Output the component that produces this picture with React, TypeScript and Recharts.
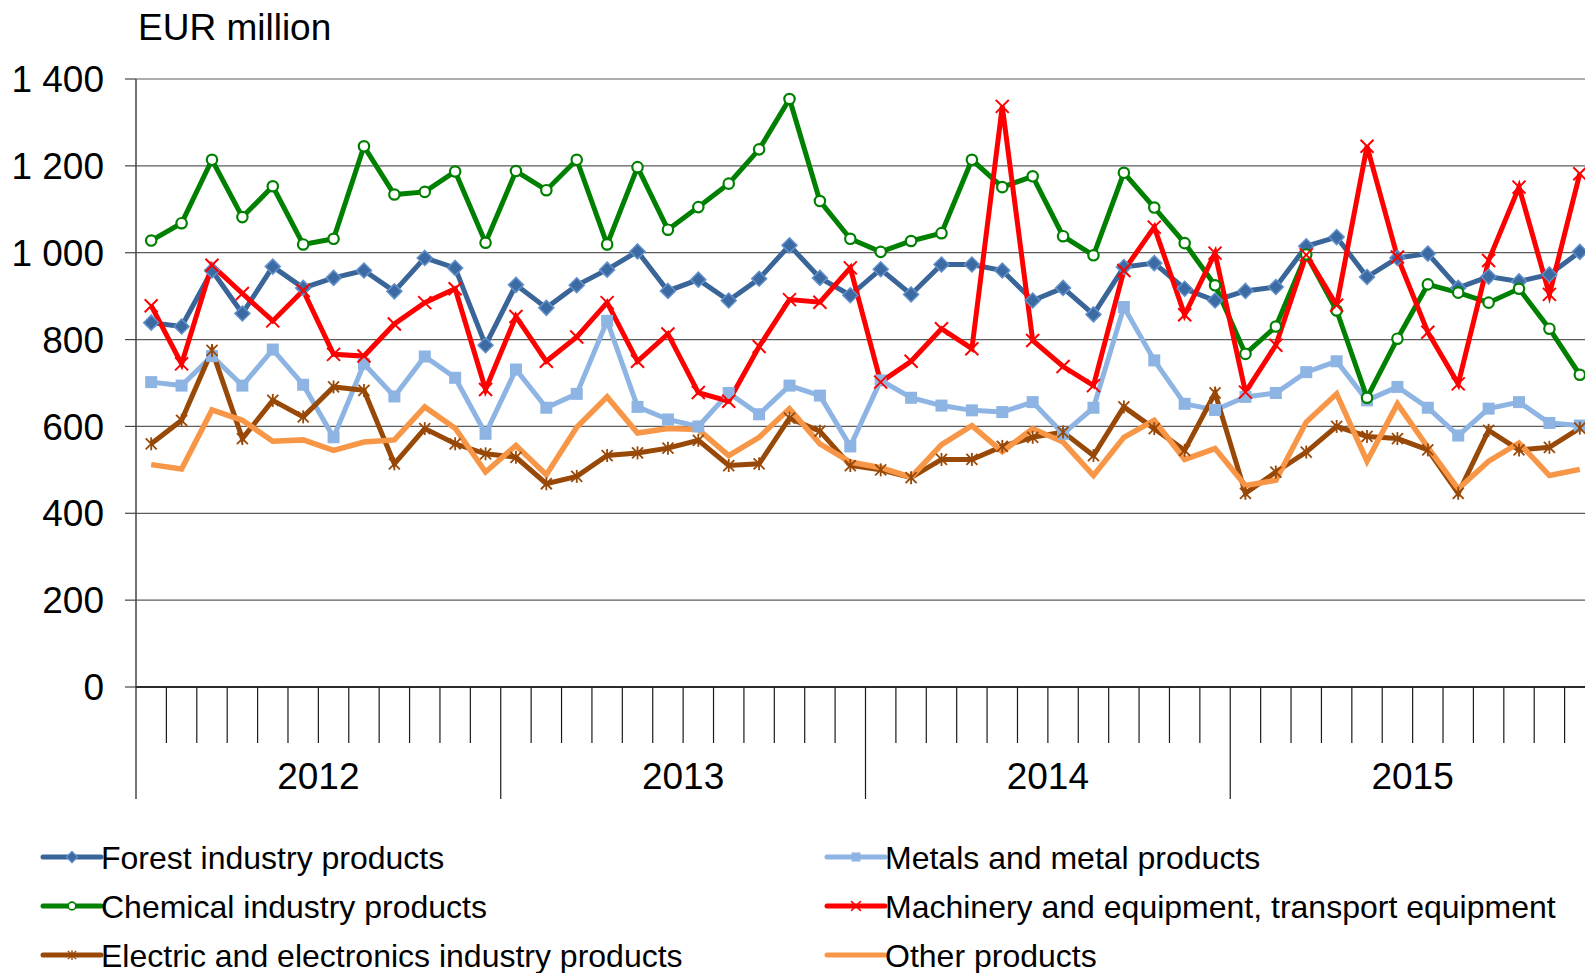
import React from 'react';
import { LineChart, Line, XAxis, YAxis, CartesianGrid } from 'recharts';

const years = ['2012', '2013', '2014', '2015'];
const monthNames = ['Jan', 'Feb', 'Mar', 'Apr', 'May', 'Jun', 'Jul', 'Aug', 'Sep', 'Oct', 'Nov', 'Dec'];
const months = years.flatMap((y) => monthNames.map((m) => `${m} ${y}`));

const forest = [839, 830, 959, 860, 968, 919, 942, 959, 911, 988, 965, 787,
  926, 873, 925, 961, 1003, 912, 938, 890, 940, 1017, 942, 902,
  962, 904, 973, 973, 959, 890, 919, 858, 967, 976, 917, 890,
  912, 921, 1015, 1036, 944, 988, 998, 919, 945, 934, 950, 1002];
const metals = [702, 694, 762, 694, 777, 696, 575, 744, 669, 761, 712, 583,
  731, 643, 675, 843, 645, 616, 600, 677, 628, 694, 671, 554,
  706, 666, 648, 637, 633, 656, 583, 643, 875, 752, 652, 638,
  668, 677, 725, 750, 660, 691, 643, 579, 641, 656, 608, 602];
const chemical = [1028, 1068, 1214, 1082, 1153, 1019, 1032, 1245, 1134, 1140, 1187, 1023,
  1188, 1144, 1214, 1019, 1197, 1053, 1105, 1159, 1238, 1354, 1119, 1032,
  1002, 1027, 1045, 1214, 1151, 1176, 1038, 994, 1184, 1104, 1022, 925,
  767, 830, 996, 867, 666, 802, 927, 908, 885, 917, 825, 719];
const machinery = [878, 744, 971, 906, 843, 913, 766, 762, 836, 885, 917, 685,
  853, 750, 806, 885, 750, 813, 678, 658, 784, 892, 886, 965,
  702, 750, 825, 779, 1337, 798, 738, 694, 959, 1059, 857, 999,
  679, 787, 995, 879, 1245, 990, 817, 698, 982, 1151, 904, 1182];
const electric = [560, 614, 775, 572, 660, 622, 691, 683, 514, 595, 560, 537,
  529, 468, 485, 533, 539, 550, 568, 510, 514, 619, 589, 510,
  500, 482, 524, 524, 554, 575, 587, 533, 645, 595, 545, 677,
  446, 495, 541, 600, 577, 572, 546, 446, 591, 546, 552, 596];
const other = [512, 502, 638, 614, 566, 569, 545, 564, 569, 645, 596, 495,
  556, 489, 598, 668, 585, 595, 593, 533, 575, 641, 560, 518,
  505, 483, 558, 602, 542, 595, 564, 487, 575, 614, 524, 549,
  464, 476, 610, 675, 520, 652, 552, 456, 520, 562, 487, 501];

const yTicks = [0, 200, 400, 600, 800, 1000, 1200, 1400];

const data = months.map((m, i) => ({
  month: m,
  pos: i + 0.5,
  forest: forest[i],
  metals: metals[i],
  chemical: chemical[i],
  machinery: machinery[i],
  electric: electric[i],
  other: other[i],
}));

const boundaryTicks = Array.from({ length: months.length + 1 }, (_, i) => i);

const FONT = '"Liberation Sans", Arial, Helvetica, sans-serif';

const C = {
  forest: '#3A6598',
  forestMarkFill: '#3C6AA2',
  forestMarkStroke: '#6190CB',
  metals: '#8DB4E2',
  chemical: '#008000',
  machinery: '#FF0000',
  electric: '#984807',
  other: '#F79646',
};

const fmt = (v: number) => {
  if (v >= 1000) {
    const t = Math.floor(v / 1000);
    const r = String(v % 1000).padStart(3, '0');
    return `${t} ${r}`;
  }
  return String(v);
};

const DiamondShape = ({ cx, cy, s = 7.5 }: any) => (
  <polygon
    points={`${cx},${cy - s} ${cx + s},${cy} ${cx},${cy + s} ${cx - s},${cy}`}
    fill={C.forestMarkFill}
    stroke={C.forestMarkStroke}
    strokeWidth={1.5}
  />
);
const SquareShape = ({ cx, cy, s = 6 }: any) => (
  <rect x={cx - s} y={cy - s} width={2 * s} height={2 * s} fill={C.metals} />
);
const CircleShape = ({ cx, cy, r = 5.2 }: any) => (
  <circle cx={cx} cy={cy} r={r} fill="#ffffff" stroke={C.chemical} strokeWidth={2.2} />
);
const XShape = ({ cx, cy, s = 6.5 }: any) => (
  <g stroke={C.machinery} strokeWidth={2}>
    <line x1={cx - s} y1={cy - s} x2={cx + s} y2={cy + s} />
    <line x1={cx - s} y1={cy + s} x2={cx + s} y2={cy - s} />
  </g>
);
const StarShape = ({ cx, cy, s = 5.5 }: any) => (
  <g stroke={C.electric} strokeWidth={1.8}>
    <line x1={cx - s} y1={cy - s} x2={cx + s} y2={cy + s} />
    <line x1={cx - s} y1={cy + s} x2={cx + s} y2={cy - s} />
    <line x1={cx} y1={cy - s - 1} x2={cx} y2={cy + s + 1} />
  </g>
);

const mkDot = (Shape: any) => (props: any) => {
  const { cx, cy, index } = props;
  if (cx == null || cy == null) return <g key={`d-${index}`} />;
  return (
    <g key={`d-${index}`}>
      <Shape cx={cx} cy={cy} />
    </g>
  );
};

const XTick = (props: any) => {
  const { x, y, payload } = props;
  const v = payload.value as number;
  const isYear = v % 12 === 0;
  const mid = v % 12 === 6 ? years[Math.floor(v / 12)] : null;
  return (
    <g>
      <line x1={x} y1={y} x2={x} y2={y + (isYear ? 112 : 56)} stroke="#1a1a1a" strokeWidth={1.2} />
      {mid && (
        <text x={x} y={y + 102} textAnchor="middle" fontSize={37} fontFamily={FONT} fill="#000">
          {mid}
        </text>
      )}
    </g>
  );
};

const legendItems = [
  { name: 'Forest industry products', color: C.forest, Shape: DiamondShape, col: 0, row: 0 },
  { name: 'Metals and metal products', color: C.metals, Shape: SquareShape, col: 1, row: 0 },
  { name: 'Chemical industry products', color: C.chemical, Shape: CircleShape, col: 0, row: 1 },
  { name: 'Machinery and equipment, transport equipment', color: C.machinery, Shape: XShape, col: 1, row: 1 },
  { name: 'Electric and electronics industry products', color: C.electric, Shape: StarShape, col: 0, row: 2 },
  { name: 'Other products', color: C.other, Shape: null, col: 1, row: 2 },
];

export default function App() {
  const colX = [43, 827];
  const rowY = [857, 906, 955];
  return (
    <div
      style={{
        position: 'fixed',
        left: 0,
        top: 0,
        width: 1585,
        height: 973,
        overflow: 'hidden',
        background: '#ffffff',
        fontFamily: FONT,
      }}
    >
      <LineChart
        width={1600}
        height={973}
        data={data}
        margin={{ top: 79, right: 5, bottom: 0, left: 0 }}
      >
        <CartesianGrid vertical={false} stroke="#5c5c5c" strokeWidth={1.2} />
        <XAxis
          dataKey="pos"
          type="number"
          domain={[0, months.length]}
          ticks={boundaryTicks}
          interval={0}
          tickLine={false}
          tickSize={0}
          tickMargin={0}
          height={286}
          axisLine={{ stroke: '#000', strokeWidth: 1.5 }}
          tick={<XTick />}
        />
        <YAxis
          type="number"
          domain={[0, 1400]}
          ticks={yTicks}
          interval={0}
          width={136}
          tickSize={11}
          tickMargin={21}
          tickFormatter={fmt}
          axisLine={{ stroke: '#444', strokeWidth: 1.5 }}
          tickLine={{ stroke: '#444', strokeWidth: 1.2 }}
          tick={{ fontSize: 37, fontFamily: FONT, fill: '#000' }}
        />
        <Line dataKey="forest" name="Forest industry products" stroke={C.forest} strokeWidth={5}
          dot={mkDot(DiamondShape)} activeDot={false} isAnimationActive={false} />
        <Line dataKey="metals" name="Metals and metal products" stroke={C.metals} strokeWidth={5}
          dot={mkDot(SquareShape)} activeDot={false} isAnimationActive={false} />
        <Line dataKey="chemical" name="Chemical industry products" stroke={C.chemical} strokeWidth={5}
          dot={mkDot(CircleShape)} activeDot={false} isAnimationActive={false} />
        <Line dataKey="machinery" name="Machinery and equipment, transport equipment" stroke={C.machinery} strokeWidth={5}
          dot={mkDot(XShape)} activeDot={false} isAnimationActive={false} />
        <Line dataKey="electric" name="Electric and electronics industry products" stroke={C.electric} strokeWidth={5}
          dot={mkDot(StarShape)} activeDot={false} isAnimationActive={false} />
        <Line dataKey="other" name="Other products" stroke={C.other} strokeWidth={5.5}
          dot={false} activeDot={false} isAnimationActive={false} />
      </LineChart>
      <svg
        width={1585}
        height={973}
        style={{ position: 'absolute', left: 0, top: 0, pointerEvents: 'none' }}
      >
        <text x={138} y={40} fontSize={37} fontFamily={FONT} fill="#000">EUR million</text>
        {legendItems.map((it) => {
          const x0 = colX[it.col];
          const y0 = rowY[it.row];
          const Shape = it.Shape;
          return (
            <g key={it.name}>
              <line x1={x0} y1={y0} x2={x0 + 58} y2={y0} stroke={it.color} strokeWidth={5} strokeLinecap="round" />
              {Shape && (
                <g transform={`translate(${x0 + 29} ${y0}) scale(0.75)`}>
                  <Shape cx={0} cy={0} />
                </g>
              )}
              <text x={x0 + 58} y={y0 + 11.5} fontSize={32} fontFamily={FONT} fill="#000">{it.name}</text>
            </g>
          );
        })}
      </svg>
    </div>
  );
}
